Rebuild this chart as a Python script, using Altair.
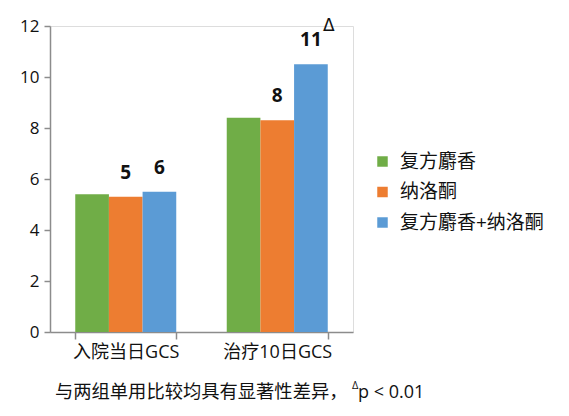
import altair as alt
import pandas as pd

categories = ["入院当日GCS", "治疗10日GCS"]
series = ["复方麝香", "纳洛酮", "复方麝香+纳洛酮"]
values = {
    "复方麝香": [5.4, 8.4],
    "纳洛酮": [5.3, 8.3],
    "复方麝香+纳洛酮": [5.5, 10.5],
}
labels = {
    "复方麝香": ["", ""],
    "纳洛酮": ["5", "8"],
    "复方麝香+纳洛酮": ["6", "11"],
}
marks = {
    "复方麝香": ["", ""],
    "纳洛酮": ["", ""],
    "复方麝香+纳洛酮": ["", "Δ"],
}
colors = ["#70AD47", "#ED7D31", "#5B9BD5"]
footnote_main = "与两组单用比较均具有显著性差异，"
footnote_sup = "Δ"
footnote_tail = "p < 0.01"

rows = []
for s in series:
    for i, c in enumerate(categories):
        rows.append({"cat": c, "series": s, "value": values[s][i],
                     "label": labels[s][i], "mark": marks[s][i]})
df = pd.DataFrame(rows)

FONT = "'Open Sans', 'Noto Sans CJK SC'"
CJK = "Noto Sans CJK SC"

x_enc = alt.X("cat:N", sort=categories, title=None,
              scale=alt.Scale(paddingInner=0.3333, paddingOuter=0.1667),
              axis=alt.Axis(labelAngle=0, labelFontSize=18, labelColor="#111",
                            labelFont=FONT, domainColor="#8c8c8c", domainWidth=1.5,
                            tickColor="#8c8c8c", tickWidth=1.5, tickSize=7,
                            tickBand="extent", labelPadding=4))
xo_enc = alt.XOffset("series:N", sort=series, scale=alt.Scale(paddingInner=0, paddingOuter=0))
y_enc = alt.Y("value:Q", title=None,
              scale=alt.Scale(domain=[0, 12], nice=False),
              axis=alt.Axis(values=[0, 2, 4, 6, 8, 10, 12], grid=False,
                            labelFontSize=17, labelColor="#111", labelFont=FONT,
                            domainColor="#8c8c8c", domainWidth=1.5,
                            tickColor="#8c8c8c", tickWidth=1.5, tickSize=6,
                            labelPadding=5))

base = alt.Chart(df)

bars = base.mark_bar().encode(
    x=x_enc, xOffset=xo_enc, y=y_enc,
    color=alt.Color("series:N", sort=series, title=None,
                    scale=alt.Scale(domain=series, range=colors),
                    legend=alt.Legend(orient="none", legendX=323, legendY=126,
                                      symbolType="square", symbolSize=110,
                                      symbolStrokeWidth=0,
                                      labelFontSize=19, labelFont=FONT,
                                      labelColor="#111", labelOffset=8,
                                      rowPadding=10.5)),
)

value_text = base.transform_filter("datum.label != ''").mark_text(
    dy=-24, fontSize=19, fontWeight="bold", font=FONT, baseline="middle", color="#111"
).encode(x=alt.X("cat:N", sort=categories), xOffset=alt.XOffset("series:N", sort=series),
         y="value:Q", text="label:N")

delta_text = base.transform_filter("datum.mark != ''").mark_text(
    dx=18, dy=-38, fontSize=17, font="DejaVu Sans", baseline="middle", color="#111"
).encode(x=alt.X("cat:N", sort=categories), xOffset=alt.XOffset("series:N", sort=series),
         y="value:Q", text="mark:N")

note_df = pd.DataFrame({"a": [footnote_main], "b": [footnote_sup], "c": [footnote_tail]})
note1 = alt.Chart(note_df).mark_text(align="left", baseline="middle", fontSize=18.3,
                                     font=CJK, color="#111").encode(
    x=alt.value(5), y=alt.value(367), text="a:N")
note2 = alt.Chart(note_df).mark_text(align="left", baseline="middle", fontSize=11,
                                     font=FONT, color="#111").encode(
    x=alt.value(302), y=alt.value(360), text="b:N")
note3 = alt.Chart(note_df).mark_text(align="left", baseline="middle", fontSize=18,
                                     font=FONT, color="#111").encode(
    x=alt.value(308), y=alt.value(367), text="c:N")

chart = alt.layer(bars, value_text, delta_text, note1, note2, note3).properties(
    width=303, height=306,
    autosize=alt.AutoSizeParams(type="none"),
    padding={"left": 42, "top": 18, "right": 208, "bottom": 76},
).configure_view(stroke=None).configure(font=FONT)

chart.save("out.html", embed_options={"renderer": "svg", "actions": False})
